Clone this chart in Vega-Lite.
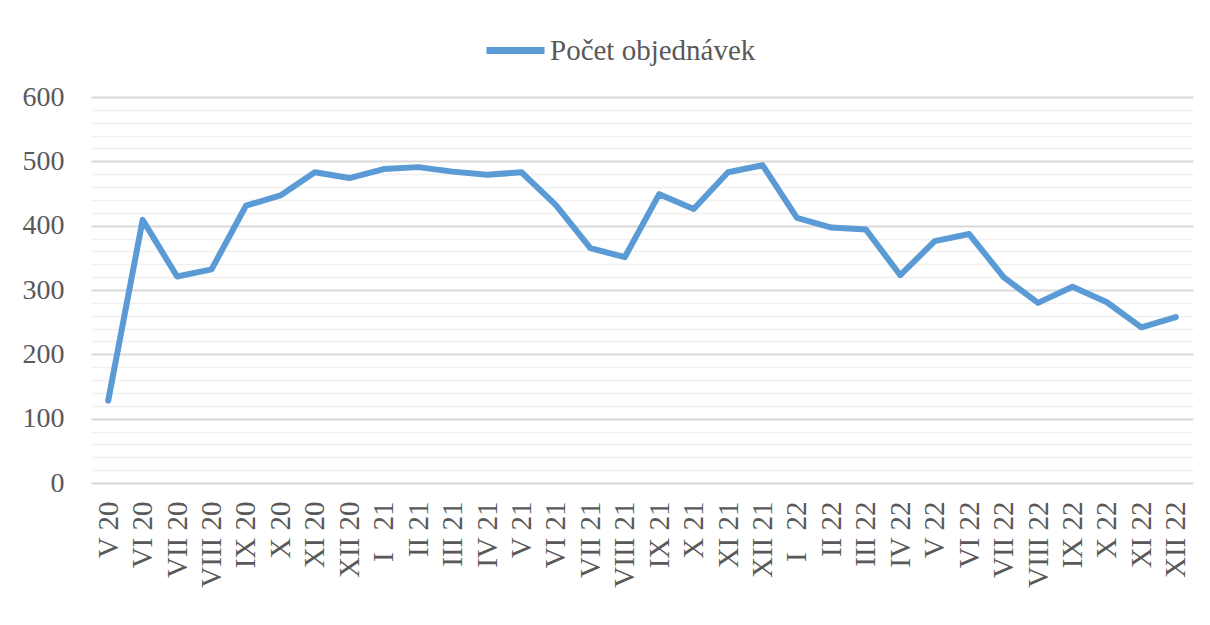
{
  "$schema": "https://vega.github.io/schema/vega-lite/v6.json",
  "autosize": {"type": "none"},
  "width": 1102,
  "height": 386,
  "padding": {"left": 91, "top": 97, "right": 17, "bottom": 142},
  "background": "white",
  "config": {
    "view": {"stroke": null},
    "font": "Liberation Serif"
  },
  "data": {
    "values": [
      {"month": "V 20", "orders": 128},
      {"month": "VI 20", "orders": 409},
      {"month": "VII 20", "orders": 321},
      {"month": "VIII 20", "orders": 332},
      {"month": "IX 20", "orders": 431},
      {"month": "X 20", "orders": 447},
      {"month": "XI 20", "orders": 483},
      {"month": "XII 20", "orders": 474},
      {"month": "I\u00a0\u00a0\u00a021", "orders": 488},
      {"month": "II 21", "orders": 491},
      {"month": "III 21", "orders": 484},
      {"month": "IV 21", "orders": 479},
      {"month": "V 21", "orders": 483},
      {"month": "VI 21", "orders": 432},
      {"month": "VII 21", "orders": 365},
      {"month": "VIII 21", "orders": 351},
      {"month": "IX 21", "orders": 449},
      {"month": "X 21", "orders": 426},
      {"month": "XI 21", "orders": 483},
      {"month": "XII 21", "orders": 494},
      {"month": "I\u00a0\u00a0\u00a022", "orders": 412},
      {"month": "II 22", "orders": 397},
      {"month": "III 22", "orders": 394},
      {"month": "IV 22", "orders": 323},
      {"month": "V 22", "orders": 376},
      {"month": "VI 22", "orders": 387},
      {"month": "VII 22", "orders": 320},
      {"month": "VIII 22", "orders": 280},
      {"month": "IX 22", "orders": 305},
      {"month": "X 22", "orders": 281},
      {"month": "XI 22", "orders": 242},
      {"month": "XII 22", "orders": 258}
    ]
  },
  "mark": {"type": "line", "strokeWidth": 6, "strokeCap": "round", "strokeJoin": "round"},
  "encoding": {
    "x": {
      "field": "month",
      "type": "nominal",
      "sort": null,
      "title": null,
      "scale": {"type": "point", "padding": 0.5},
      "axis": {
        "labelAngle": -90,
        "labelFontSize": 29,
        "labelColor": "#595959",
        "labelPadding": 18,
        "ticks": false,
        "domain": false,
        "grid": false,
        "labelFont": "Liberation Serif"
      }
    },
    "y": {
      "field": "orders",
      "type": "quantitative",
      "title": null,
      "scale": {"domain": [0, 600], "nice": false},
      "axis": {
        "values": [0, 20, 40, 60, 80, 100, 120, 140, 160, 180, 200, 220, 240, 260, 280, 300, 320, 340, 360, 380, 400, 420, 440, 460, 480, 500, 520, 540, 560, 580, 600],
        "labelExpr": "datum.value % 100 === 0 ? datum.label : ''",
        "labelFontSize": 28,
        "labelColor": "#595959",
        "labelPadding": 27,
        "labelFont": "Liberation Serif",
        "ticks": false,
        "domain": false,
        "grid": true,
        "gridColor": {"condition": {"test": "datum.value % 100 === 0", "value": "#d9d9d9"}, "value": "#f0f0f0"},
        "gridWidth": {"condition": {"test": "datum.value % 100 === 0", "value": 2}, "value": 1.5}
      }
    },
    "color": {
      "datum": "Počet objednávek",
      "scale": {"range": ["#5b9bd5"]},
      "legend": {
        "title": null,
        "orient": "none",
        "legendX": 392,
        "legendY": -79,
        "symbolType": "stroke",
        "symbolSize": 3364,
        "symbolStrokeWidth": 7,
        "labelFontSize": 29,
        "labelLimit": 400,
        "labelColor": "#595959",
        "labelFont": "Liberation Serif",
        "labelOffset": 2
      }
    }
  }
}
